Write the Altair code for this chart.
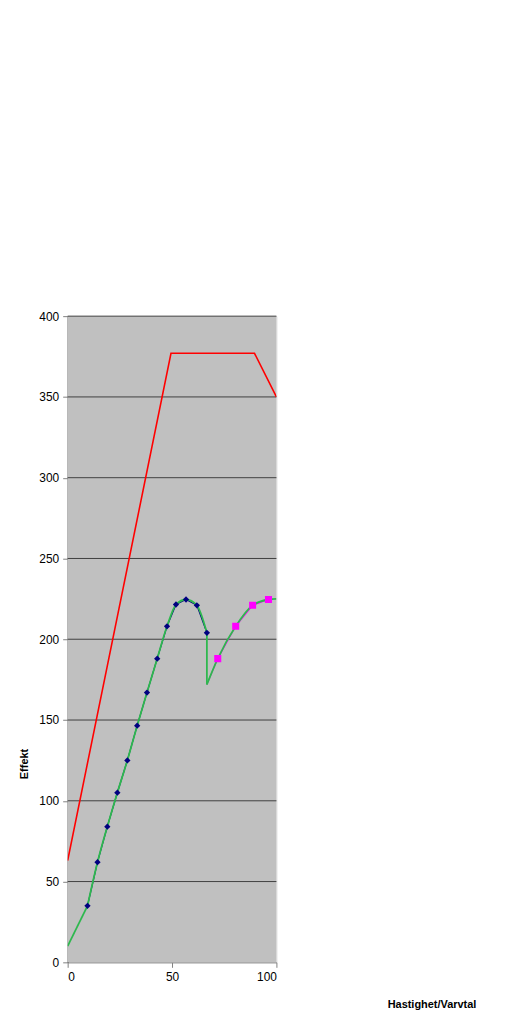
import altair as alt
import pandas as pd

# Data
red_x = [0, 49.5, 89.5, 100]
red_y = [63, 377, 377, 350]

diam_x = [9.5, 14.3, 19.0, 23.8, 28.6, 33.3, 38.0, 42.9, 47.6, 51.9, 56.7, 61.9, 66.7]
diam_y = [35, 62, 84, 105, 125, 146.5, 167, 188, 208, 221.5, 224.6, 221, 204]

sq_x = [66.7, 71.9, 80.5, 88.6, 96.2]
sq_y = [172, 188, 208, 221, 224.6]
sq_marker = [False, True, True, True, True]

start_x = [0, 9.5]
start_y = [10, 35]
green1_x = [9.5, 14.3, 19.0, 23.8, 28.6, 33.3, 38.0, 42.9, 47.6, 51.9, 56.7, 61.9, 66.7]
green1_y = [35, 62, 84, 105, 125, 146.5, 167, 188, 208, 221.5, 224.6, 221, 204]
green2_x = [66.7, 71.9, 80.5, 88.6, 96.2, 100]
green2_y = [172, 188, 208, 221, 224.6, 225]
drop_x = [66.7, 66.7]
drop_y = [204, 172]

y_ticks = [0, 50, 100, 150, 200, 250, 300, 350, 400]
grid_vals = [50, 100, 150, 200, 250, 300, 350, 400]

red = pd.DataFrame({"x": red_x, "y": red_y})
diam = pd.DataFrame({"x": diam_x, "y": diam_y})
sq = pd.DataFrame({"x": sq_x, "y": sq_y, "m": sq_marker})
g = pd.DataFrame({"x": green1_x + green2_x,
                  "y": green1_y + green2_y,
                  "seg": ["a"] * len(green1_x) + ["b"] * len(green2_x)})
glin = pd.DataFrame({"x": start_x + drop_x, "y": start_y + drop_y,
                     "seg": ["s", "s", "d", "d"], "i": [0, 1, 0, 1]})
bg = pd.DataFrame({"x": [0], "x2": [100], "y": [0], "y2": [400]})
grid = pd.DataFrame({"y": grid_vals})

xscale = alt.Scale(domain=[0, 100], nice=False)
yscale = alt.Scale(domain=[0, 400], nice=False)

xenc = alt.X("x:Q", scale=xscale, axis=alt.Axis(
    values=[0, 50, 100], title="Hastighet/Varvtal", grid=False,
    titleX=366, titleY=36, titleFontWeight="bold", titleFontSize=11,
    labelFontSize=12, labelColor="#000000", tickColor="#808080", tickSize=5,
    domainColor="#808080", labelPadding=4))
yenc = alt.Y("y:Q", scale=yscale, axis=alt.Axis(
    values=y_ticks, title="Effekt", grid=False,
    titleX=-38, titleY=450,
    titleFontWeight="bold", titleFontSize=11, labelFontSize=12,
    labelColor="#000000", tickColor="#808080", tickSize=5,
    domainColor="#404040", labelPadding=4))

background = alt.Chart(bg).mark_rect(color="#C0C0C0").encode(
    x=xenc, x2="x2:Q", y=yenc, y2="y2:Q")

gridlines = alt.Chart(grid).mark_rule(color="#404040", strokeWidth=1).encode(
    y="y:Q", x=alt.datum(0), x2=alt.datum(100))

base_red = alt.Chart(red).mark_line(color="#FF0000", strokeWidth=1.6, clip=True).encode(
    x="x:Q", y="y:Q")

navy_line = alt.Chart(diam).mark_line(color="#000080", strokeWidth=1.2, clip=True).encode(
    x="x:Q", y="y:Q")
mag_line = alt.Chart(sq).mark_line(color="#FF00FF", strokeWidth=1.2, clip=True).encode(
    x="x:Q", y="y:Q")

green = alt.Chart(g).mark_line(color="#2EB84E", strokeWidth=1.8, interpolate="monotone",
                               clip=True).encode(x="x:Q", y="y:Q", detail="seg:N")
green_lin = alt.Chart(glin).mark_line(color="#2EB84E", strokeWidth=1.8, clip=True).encode(
    x="x:Q", y="y:Q", detail="seg:N", order="i:Q")

diam_pts = alt.Chart(diam).mark_point(shape="diamond", filled=True, color="#000080",
                                      size=40, opacity=1, clip=True).encode(x="x:Q", y="y:Q")
sq_pts = alt.Chart(sq).transform_filter("datum.m").mark_point(
    shape="square", filled=True, color="#FF00FF", size=50, opacity=1, clip=True).encode(
    x="x:Q", y="y:Q")

chart = alt.layer(background, gridlines, base_red, navy_line, mag_line, green, green_lin,
                  diam_pts, sq_pts).properties(
    width=210, height=650,
    autosize=alt.AutoSizeParams(type="none"),
    padding={"left": 60, "top": 307, "right": 240, "bottom": 50},
).configure_view(strokeWidth=0).configure(
    font="Liberation Sans", background="#FFFFFF")

chart.save("out.html", embed_options={"renderer": "svg", "actions": False})
